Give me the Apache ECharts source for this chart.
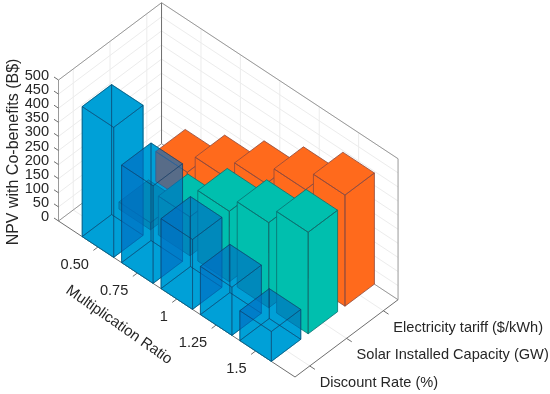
<!DOCTYPE html>
<html><head><meta charset="utf-8">
<style>html,body{margin:0;padding:0;background:#fff}#c{width:550px;height:394px}</style>
<script src="https://cdn.jsdelivr.net/npm/echarts@6/dist/echarts.min.js"></script>
</head><body><div id="c"></div>
<script>
// ---- data ----
const ratioLabels = ['0.50', '0.75', '1', '1.25', '1.5'];
const parameterLabels = ['Discount Rate (%)', 'Solar Installed Capacity (GW)', 'Electricity tariff ($/kWh)'];
const npvTicks = [0, 50, 100, 150, 200, 250, 300, 350, 400, 450, 500];
const discountRate = [461, 346, 248, 171, 106];
const solarCapacity = [25, 138, 250, 302, 360];
const electricityTariff = [106, 178, 250, 321, 394];
const zLabel = 'NPV with Co-benefits (B$)';
const xLabel = 'Multiplication Ratio';

// ---- projection of the 3-D axes box onto the page ----
const xLim = [0, 6], yLim = [0.6, 3.4], zLim = [0, 500];
const O = [58.5, 221], EX = [39.42, 26], EY = [36.8, -27.6], EZ = [0, -0.282];
const BAR = 0.4;
const proj = (x, y, z) => [
  O[0] + x * EX[0] + (y - yLim[0]) * EY[0] + z * EZ[0],
  O[1] + x * EX[1] + (y - yLim[0]) * EY[1] + z * EZ[1]
];
const font = s => s + 'px "Liberation Sans", Arial, sans-serif';
const TXT = '#262626';

function barFaces(x, y, v) {
  const a = x - BAR, b = x + BAR, c = y - BAR, d = y + BAR;
  return {
    hidden: [
      [[a, c, 0], [b, c, 0], [b, d, 0], [a, d, 0]],
      [[a, c, 0], [a, d, 0], [a, d, v], [a, c, v]],
      [[a, d, 0], [b, d, 0], [b, d, v], [a, d, v]]
    ],
    visible: [
      [[a, c, 0], [b, c, 0], [b, c, v], [a, c, v]],
      [[b, c, 0], [b, d, 0], [b, d, v], [b, c, v]],
      [[a, c, v], [b, c, v], [b, d, v], [a, d, v]]
    ]
  };
}
function poly(api, pts, style) {
  return { type: 'polygon',
    shape: { points: pts.map(p => api.coord(proj(p[0], p[1], p[2]))) },
    style: style };
}
function barSeries(name, values, yPos, fill, alpha, edge, all) {
  return {
    type: 'custom', name, coordinateSystem: 'cartesian2d', silent: true, clip: false,
    data: values.map((v, i) => [i + 1, yPos, v]),
    renderItem(params, api) {
      const f = barFaces(api.value(0), api.value(1), api.value(2));
      const faces = all ? f.hidden.concat(f.visible) : f.visible;
      return { type: 'group', children: faces.map(q => poly(api, q, {
        fill, opacity: alpha, stroke: null })).concat(faces.map(q => poly(api, q, {
        fill: 'none', stroke: edge, lineWidth: 0.8 }))) };
    }
  };
}
function underlaySeries(values, yPos) {
  return {
    type: 'custom', name: 'underlay', coordinateSystem: 'cartesian2d', silent: true, clip: false,
    data: values.map((v, i) => [i + 1, yPos, v]),
    renderItem(params, api) {
      const f = barFaces(api.value(0), api.value(1), api.value(2));
      return { type: 'group', children: f.visible.map(q => poly(api, q, {
        fill: '#00ffff', stroke: '#00ffff', lineWidth: 0.5 })) };
    }
  };
}

// ---- box, grid and ticks, made from the axis limits and tick lists ----
const segs = [];
const seg = (p, q, color, w) => segs.push([p, q, color, w]);
const GRID = '#ececec', BOX = '#9a9a9a', AX = '#6e6e6e';
const [x0, x1] = xLim, [y0, y1] = yLim, [z0, z1] = zLim;
npvTicks.forEach(z => {
  seg(proj(x0, y0, z), proj(x0, y1, z), GRID, 1);
  seg(proj(x0, y1, z), proj(x1, y1, z), GRID, 1);
});
ratioLabels.forEach((_, i) => {
  seg(proj(i + 1, y1, z0), proj(i + 1, y1, z1), GRID, 1);
  seg(proj(i + 1, y0, z0), proj(i + 1, y1, z0), GRID, 1);
});
parameterLabels.forEach((_, j) => {
  seg(proj(x0, j + 1, z0), proj(x0, j + 1, z1), GRID, 1);
  seg(proj(x0, j + 1, z0), proj(x1, j + 1, z0), GRID, 1);
});
seg(proj(x0, y0, z0), proj(x0, y1, z0), BOX, 1);
seg(proj(x0, y1, z0), proj(x1, y1, z0), BOX, 1);
seg(proj(x0, y0, z0), proj(x0, y0, z1), BOX, 1);
seg(proj(x0, y1, z0), proj(x0, y1, z1), AX, 1);
seg(proj(x1, y1, z0), proj(x1, y1, z1), BOX, 1);
seg(proj(x0, y0, z1), proj(x0, y1, z1), BOX, 1);
seg(proj(x0, y1, z1), proj(x1, y1, z1), BOX, 1);
seg(proj(x0, y0, z0), proj(x1, y0, z0), AX, 1);
seg(proj(x1, y0, z0), proj(x1, y1, z0), AX, 1);
npvTicks.forEach(z => { const p = proj(x0, y0, z); seg(p, [p[0] - 4.5, p[1] - 3], AX, 1); });
ratioLabels.forEach((_, i) => { const p = proj(i + 1, y0, z0); seg(p, [p[0] - 4.5, p[1] + 3.4], AX, 1); });
parameterLabels.forEach((_, j) => { const p = proj(x1, j + 1, z0); seg(p, [p[0] + 5.2, p[1] + 3.4], AX, 1); });

// ---- text ----
const texts = [];
npvTicks.forEach(z => { const p = proj(x0, y0, z);
  texts.push({ t: String(z), x: p[0] - 9.5, y: p[1] - 4, a: 'right', s: 14.6, r: 0 }); });
ratioLabels.forEach((t, i) => { const p = proj(i + 1, y0, z0);
  texts.push({ t, x: p[0] - 9, y: p[1] + 18, a: 'right', s: 14.6, r: 0 }); });
parameterLabels.forEach((t, j) => { const p = proj(x1, j + 1, z0);
  texts.push({ t, x: p[0] + 10, y: p[1] + 17, a: 'left', s: 14.6, r: 0 }); });
texts.push({ t: zLabel, x: 13.5, y: 152, a: 'center', s: 16, r: Math.PI / 2 });
texts.push({ t: xLabel, x: 119, y: 325, a: 'center', s: 15, r: -35 * Math.PI / 180 });

const chart = echarts.init(document.getElementById('c'));
chart.setOption({
  animation: false,
  backgroundColor: '#fff',
  grid: { left: 0, right: 0, top: 0, bottom: 0 },
  xAxis: { type: 'value', min: 0, max: 550, show: false },
  yAxis: { type: 'value', min: 0, max: 394, inverse: true, show: false },
  series: [
    { type: 'custom', name: 'axes box', coordinateSystem: 'cartesian2d', silent: true, clip: false,
      data: segs.map((s, i) => [i, 0]),
      renderItem(params, api) {
        const s = segs[params.dataIndex], a = api.coord(s[0]), b = api.coord(s[1]);
        return { type: 'line', shape: { x1: a[0], y1: a[1], x2: b[0], y2: b[1] },
          style: { stroke: s[2], lineWidth: s[3] } };
      } },
    underlaySeries(discountRate, 1),
    barSeries(parameterLabels[2], electricityTariff, 3, '#ff6a1c', 1, '#8e4a3e', false),
    barSeries(parameterLabels[1], solarCapacity, 2, '#00bfae', 1, '#0b6e70', false),
    barSeries(parameterLabels[0], discountRate, 1, 'rgb(0,110,194)', 0.41, 'rgba(15,60,100,0.55)', true),
    { type: 'custom', name: 'labels', coordinateSystem: 'cartesian2d', silent: true, clip: false,
      data: texts.map((s, i) => [i, 0]),
      renderItem(params, api) {
        const s = texts[params.dataIndex], p = api.coord([s.x, s.y]);
        return { type: 'text', x: p[0], y: p[1], rotation: s.r,
          style: { text: s.t, x: 0, y: 0, align: s.a, verticalAlign: 'middle', font: font(s.s), fill: TXT } };
      } }
  ]
});
</script></body></html>
